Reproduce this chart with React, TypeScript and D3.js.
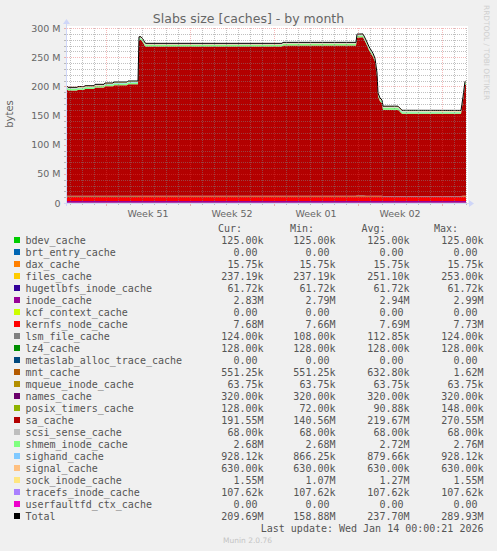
import React from "react";
import * as d3 from "d3";

// ---- time samples (UTC) ----
const times = [
  "2025-12-11T18:00", "2025-12-11T20:00", "2025-12-12T14:00", "2025-12-12T16:00",
  "2025-12-13T04:00", "2025-12-13T06:00", "2025-12-14T00:00", "2025-12-14T02:00",
  "2025-12-14T20:00", "2025-12-14T22:00", "2025-12-15T14:00", "2025-12-15T16:00",
  "2025-12-16T18:00", "2025-12-16T20:00", "2025-12-17T16:00",
  "2025-12-17T18:00", "2025-12-17T22:00", "2025-12-18T02:00", "2025-12-18T06:00",
  "2025-12-18T08:00", "2025-12-29T16:00", "2025-12-29T18:00", "2026-01-04T20:00",
  "2026-01-04T22:00", "2026-01-05T10:00",
  "2026-01-05T16:00", "2026-01-05T22:00", "2026-01-06T06:00", "2026-01-06T10:00",
  "2026-01-06T14:00", "2026-01-06T16:00", "2026-01-06T20:00", "2026-01-07T00:00",
  "2026-01-07T02:00", "2026-01-08T08:00", "2026-01-08T16:00", "2026-01-13T14:00",
  "2026-01-13T18:00", "2026-01-13T22:00", "2026-01-14T00:00",
];

// ---- series values in M (bytes / 1e6) ----
const saCache = [
  182.7, 180.4, 180.4, 181.6, 181.6, 183.1, 183.1, 185.5, 185.5, 187.8, 187.8, 189.5, 189.5, 191.2, 191.2,
  267.0, 267.0, 263.0, 256.5, 255.7, 255.7, 257.4, 257.4,
  270.3, 270.55,
  261.3, 249.8, 238.4, 229.8, 204.8, 170.4, 161.8, 158.5,
  147.8, 147.8, 140.8, 140.6,
  163.8, 189.8, 191.55,
];
const filesCache = [
  0.253, 0.253, 0.253, 0.253, 0.253, 0.253, 0.253, 0.253, 0.253, 0.253, 0.253, 0.253, 0.253, 0.253, 0.253,
  0.253, 0.253, 0.253, 0.253, 0.253, 0.253, 0.253, 0.253,
  0.253, 0.253,
  0.253, 0.253, 0.253, 0.253, 0.253, 0.253, 0.253, 0.253,
  0.237, 0.237, 0.237, 0.237,
  0.237, 0.237, 0.237,
];
const inodeCache = [
  2.99, 2.99, 2.99, 2.99, 2.99, 2.99, 2.99, 2.99, 2.99, 2.99, 2.99, 2.99, 2.99, 2.99, 2.99,
  2.95, 2.95, 2.95, 2.95, 2.95, 2.95, 2.95, 2.95,
  2.95, 2.95,
  2.9, 2.9, 2.9, 2.9, 2.9, 2.9, 2.9, 2.9,
  2.79, 2.79, 2.79, 2.79,
  2.83, 2.83, 2.83,
];
const kernfsCache = [
  7.73, 7.73, 7.73, 7.73, 7.73, 7.73, 7.73, 7.73, 7.73, 7.73, 7.73, 7.73, 7.73, 7.73, 7.73,
  7.7, 7.7, 7.7, 7.7, 7.7, 7.7, 7.7, 7.7,
  7.7, 7.7,
  7.68, 7.68, 7.68, 7.68, 7.68, 7.68, 7.68, 7.68,
  7.66, 7.66, 7.66, 7.66,
  7.68, 7.68, 7.68,
];
const lsmCache = [
  0.108, 0.108, 0.108, 0.108, 0.108, 0.108, 0.108, 0.108, 0.108, 0.108, 0.108, 0.108, 0.108, 0.108, 0.108,
  0.108, 0.108, 0.108, 0.108, 0.108, 0.108, 0.108, 0.108,
  0.112, 0.112,
  0.116, 0.116, 0.116, 0.116, 0.116, 0.116, 0.116, 0.116,
  0.124, 0.124, 0.124, 0.124,
  0.124, 0.124, 0.124,
];
const mntCache = [
  0.56, 0.56, 0.56, 0.56, 0.56, 0.56, 0.56, 0.56, 0.56, 0.56, 0.56, 0.56, 0.56, 0.56, 0.56,
  0.6, 0.6, 0.6, 0.6, 0.6, 0.6, 0.6, 0.6,
  1.62, 1.62,
  0.7, 0.7, 0.7, 0.7, 0.7, 0.7, 0.7, 0.7,
  0.551, 0.551, 0.551, 0.551,
  0.551, 0.551, 0.551,
];
const posixCache = [
  0.072, 0.072, 0.072, 0.072, 0.072, 0.072, 0.072, 0.072, 0.072, 0.072, 0.072, 0.072, 0.072, 0.072, 0.072,
  0.08, 0.08, 0.08, 0.08, 0.08, 0.08, 0.08, 0.08,
  0.148, 0.148,
  0.1, 0.1, 0.1, 0.1, 0.1, 0.1, 0.1, 0.1,
  0.128, 0.128, 0.128, 0.128,
  0.128, 0.128, 0.128,
];
const shmemCache = [
  2.76, 2.76, 2.76, 2.76, 2.76, 2.76, 2.76, 2.76, 2.76, 2.76, 2.76, 2.76, 2.76, 2.76, 2.76,
  2.72, 2.72, 2.72, 2.72, 2.72, 2.72, 2.72, 2.72,
  2.72, 2.72,
  2.7, 2.7, 2.7, 2.7, 2.7, 2.7, 2.7, 2.7,
  2.68, 2.68, 2.68, 2.68,
  2.68, 2.68, 2.68,
];
const sighandCache = [
  0.866, 0.866, 0.866, 0.866, 0.866, 0.866, 0.866, 0.866, 0.866, 0.866, 0.866, 0.866, 0.866, 0.866, 0.866,
  0.87, 0.87, 0.87, 0.87, 0.87, 0.87, 0.87, 0.87,
  0.9, 0.9,
  0.9, 0.9, 0.9, 0.9, 0.9, 0.9, 0.9, 0.9,
  0.928, 0.928, 0.928, 0.928,
  0.928, 0.928, 0.928,
];
const sockCache = [
  1.07, 1.07, 1.07, 1.07, 1.07, 1.07, 1.07, 1.07, 1.07, 1.07, 1.07, 1.07, 1.07, 1.07, 1.07,
  1.2, 1.2, 1.2, 1.2, 1.2, 1.2, 1.2, 1.2,
  1.3, 1.3,
  1.3, 1.3, 1.3, 1.3, 1.3, 1.3, 1.3, 1.3,
  1.55, 1.55, 1.55, 1.55,
  1.55, 1.55, 1.55,
];

// series names & colours, in stacking order
const seriesNames = [
  "bdev_cache", "brt_entry_cache", "dax_cache", "files_cache", "hugetlbfs_inode_cache",
  "inode_cache", "kcf_context_cache", "kernfs_node_cache", "lsm_file_cache", "lz4_cache",
  "metaslab_alloc_trace_cache", "mnt_cache", "mqueue_inode_cache", "names_cache",
  "posix_timers_cache", "sa_cache", "scsi_sense_cache", "shmem_inode_cache", "sighand_cache",
  "signal_cache", "sock_inode_cache", "tracefs_inode_cache", "userfaultfd_ctx_cache",
];
const seriesColors = [
  "#00CC00", "#0066B3", "#FF8000", "#FFCC00", "#330099",
  "#990099", "#CCFF00", "#FF0000", "#808080", "#008F00",
  "#00487D", "#B35A00", "#B38F00", "#6B006B",
  "#8FB300", "#B30000", "#BEBEBE", "#80FF80", "#80C9FF",
  "#FFC080", "#FFE680", "#AA80FF", "#EE00CC",
];
// series values: arrays for varying series, single numbers (M) for constant ones
const seriesValues: (number | number[])[] = [
  0.125, 0, 0.01575, filesCache, 0.06172,
  inodeCache, 0, kernfsCache, lsmCache, 0.128,
  0, mntCache, 0.06375, 0.32,
  posixCache, saCache, 0.068, shmemCache, sighandCache,
  0.63, sockCache, 0.10762, 0,
];

// legend statistics as printed
const legendCur = ["125.00k", "0.00", "15.75k", "237.19k", "61.72k", "2.83M", "0.00", "7.68M", "124.00k", "128.00k", "0.00", "551.25k", "63.75k", "320.00k", "128.00k", "191.55M", "68.00k", "2.68M", "928.12k", "630.00k", "1.55M", "107.62k", "0.00", "209.69M"];
const legendMin = ["125.00k", "0.00", "15.75k", "237.19k", "61.72k", "2.79M", "0.00", "7.66M", "108.00k", "128.00k", "0.00", "551.25k", "63.75k", "320.00k", "72.00k", "140.56M", "68.00k", "2.68M", "866.25k", "630.00k", "1.07M", "107.62k", "0.00", "158.88M"];
const legendAvg = ["125.00k", "0.00", "15.75k", "251.10k", "61.72k", "2.94M", "0.00", "7.69M", "112.85k", "128.00k", "0.00", "632.80k", "63.75k", "320.00k", "90.88k", "219.67M", "68.00k", "2.72M", "879.66k", "630.00k", "1.27M", "107.62k", "0.00", "237.70M"];
const legendMax = ["125.00k", "0.00", "15.75k", "253.00k", "61.72k", "2.99M", "0.00", "7.73M", "124.00k", "128.00k", "0.00", "1.62M", "63.75k", "320.00k", "148.00k", "270.55M", "68.00k", "2.76M", "928.12k", "630.00k", "1.55M", "107.62k", "0.00", "289.93M"];
const columnHeaders = ["Cur:", "Min:", "Avg:", "Max:"];
const yTicks = [0, 50, 100, 150, 200, 250, 300];

const title = "Slabs size [caches] - by month";
const yLabel = "bytes";
const lastUpdate = "Last update: Wed Jan 14 00:00:21 2026";

const SANS = "'DejaVu Sans', Verdana, sans-serif";
const MONO = "'DejaVu Sans Mono', monospace";

export default function App() {
  const parse = d3.utcParse("%Y-%m-%dT%H:%M");
  const dates = times.map((t) => parse(t) as Date);
  const start = dates[0];
  const end = dates[dates.length - 1];

  const x = d3.scaleUtc().domain([start, end]).range([67, 466]);
  const y = d3.scaleLinear().domain([0, 300]).range([203, 28]);

  const rows = dates.map((d, i) => {
    const r: any = { date: d };
    seriesNames.forEach((n, k) => {
      const v = seriesValues[k];
      r[n] = Array.isArray(v) ? v[i] : v;
    });
    return r;
  });
  const stacked = d3.stack<any>().keys(seriesNames)(rows);
  const area = d3
    .area<any>()
    .x((d) => x(d.data.date))
    .y0((d) => y(d[0]))
    .y1((d) => y(d[1]))
    .curve(d3.curveLinear);
  const totals = rows.map((r) => d3.sum(seriesNames, (n) => r[n]));
  const totalLine = d3
    .line<number>()
    .x((_, i) => x(dates[i]))
    .y((v) => y(v));

  // grid
  const days = d3.utcDay.range(d3.utcDay.ceil(start), d3.utcDay.offset(end, 1)).filter((d) => x(d) <= 467);
  const isMonday = (d: Date) => d.getUTCDay() === 1;
  const minorY = d3.range(0, 301, 10);
  const mondays = d3.utcMonday.range(d3.utcMonday.floor(start), end);
  const weekLabels = mondays
    .map((m) => ({ pos: new Date(m.getTime() + 3.5 * 864e5), label: "Week " + d3.utcFormat("%V")(m) }))
    .filter((w) => w.pos >= start && w.pos <= end);

  const minorColor = "rgba(130,130,130,0.5)";
  const majorColor = "rgba(225,70,70,0.38)";

  const legendNames = [...seriesNames, "Total"];
  const legendColors = [...seriesColors, "#000000"];
  const colEnds = [263.5, 335.5, 409.5, 483.5];
  const headerEnds = [242, 314, 385.5, 458];
  const stats = [legendCur, legendMin, legendAvg, legendMax];

  return (
    <svg
      width={497}
      height={551}
      style={{ position: "absolute", left: 0, top: 0, display: "block" }}
      xmlns="http://www.w3.org/2000/svg"
    >
      <rect x={0} y={0} width={497} height={551} fill="#F0F0F0" />
      <rect x={67} y={26} width={401} height={177} fill="#FFFFFF" />

      {/* stacked areas */}
      {stacked.map((s, k) => (
        <path key={seriesNames[k]} d={area(s) || ""} fill={seriesColors[k]} />
      ))}
      <path d={totalLine(totals) || ""} fill="none" stroke="#000" strokeWidth={1} />

      {/* grid */}
      <g shapeRendering="crispEdges">
        {minorY.map((v) => (
          <line
            key={"h" + v}
            x1={67}
            x2={467}
            y1={Math.round(y(v)) + 0.5}
            y2={Math.round(y(v)) + 0.5}
            stroke={v % 50 === 0 ? majorColor : minorColor}
            strokeDasharray="1,1"
          />
        ))}
        {days.map((d) => (
          <line
            key={"v" + d.getTime()}
            x1={Math.round(x(d)) + 0.5}
            x2={Math.round(x(d)) + 0.5}
            y1={28}
            y2={203}
            stroke={isMonday(d) ? majorColor : minorColor}
            strokeDasharray="1,1"
          />
        ))}
        {/* ticks */}
        {minorY.map((v) => (
          <line
            key={"yt" + v}
            x1={64}
            x2={67}
            y1={Math.round(y(v)) + 0.5}
            y2={Math.round(y(v)) + 0.5}
            stroke={v % 50 === 0 ? majorColor : minorColor}
          />
        ))}
        {days.map((d) => (
          <line
            key={"xt" + d.getTime()}
            x1={Math.round(x(d)) + 0.5}
            x2={Math.round(x(d)) + 0.5}
            y1={203}
            y2={isMonday(d) ? 206 : 205}
            stroke={isMonday(d) ? majorColor : minorColor}
          />
        ))}
        {/* axes */}
        <line x1={64} x2={470} y1={203.5} y2={203.5} stroke="#CFD6F8" />
        <line x1={66.5} x2={66.5} y1={206} y2={23} stroke="#CFD6F8" />
      </g>
      <path d="M469,200 L474,203.5 L469,207 Z" fill="#CFD6F8" />
      <path d="M63,24 L66.5,19 L70,24 Z" fill="#CFD6F8" />

      {/* y tick labels */}
      {yTicks.map((v) => (
        <text
          key={"yl" + v}
          x={60.5}
          y={y(v) + 3.5}
          textAnchor="end"
          fontFamily={SANS}
          fontSize={9.5}
          fill="#666"
        >
          {v === 0 ? "0" : `${v} M`}
        </text>
      ))}
      {/* x labels */}
      {weekLabels.map((w) => (
        <text
          key={w.label}
          x={x(w.pos)}
          y={216.5}
          textAnchor="middle"
          fontFamily={SANS}
          fontSize={9.5}
          fill="#666"
        >
          {w.label}
        </text>
      ))}

      {/* title and labels */}
      <text x={248.5} y={23} textAnchor="middle" fontFamily={SANS} fontSize={12.5} fill="#666">
        {title}
      </text>
      <text
        transform="translate(12.6,114) rotate(-90)"
        textAnchor="middle"
        fontFamily={SANS}
        fontSize={10}
        fill="#666"
      >
        {yLabel}
      </text>
      <text
        transform="translate(484,5) rotate(90)"
        fontFamily={SANS}
        fontSize={7.4}
        fill="#cfcfcf"
      >
        RRDTOOL / TOBI OETIKER
      </text>

      {/* legend */}
      {columnHeaders.map((h, c) => (
        <text key={h} x={headerEnds[c]} y={231.5} textAnchor="end" fontFamily={MONO} fontSize={10} fill="#555">
          {h}
        </text>
      ))}
      {legendNames.map((n, i) => {
        const cy = 240 + i * 12;
        return (
          <g key={n}>
            <rect x={14} y={cy - 3} width={6} height={6} fill={legendColors[i]} />
            <text x={25.5} y={cy + 3.5} fontFamily={MONO} fontSize={10} fill="#555">
              {n}
            </text>
            {stats.map((col, c) => {
              const v = col[i];
              const hasSuffix = /[kM]$/.test(v);
              return (
                <text
                  key={c}
                  x={colEnds[c] - (hasSuffix ? 0 : 6)}
                  y={cy + 3.5}
                  textAnchor="end"
                  fontFamily={MONO}
                  fontSize={10}
                  fill="#555"
                >
                  {v}
                </text>
              );
            })}
          </g>
        );
      })}
      <text x={483.5} y={531.5} textAnchor="end" fontFamily={MONO} fontSize={10} fill="#555">
        {lastUpdate}
      </text>
      <text x={223} y={543} fontFamily={SANS} fontSize={7.5} fill="#c4c4c4">
        Munin 2.0.76
      </text>
    </svg>
  );
}
